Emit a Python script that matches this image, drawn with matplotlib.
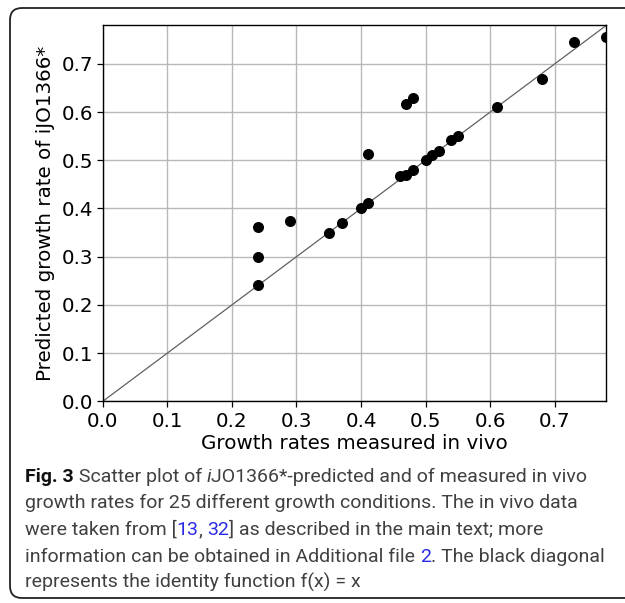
import matplotlib
matplotlib.use("Agg")
import matplotlib.pyplot as plt
from matplotlib.patches import FancyBboxPatch
from matplotlib.transforms import IdentityTransform

# ---- data ----
measured = [0.24, 0.24, 0.24, 0.29, 0.35, 0.37, 0.40, 0.41, 0.41, 0.46, 0.47,
            0.48, 0.47, 0.48, 0.50, 0.51, 0.52, 0.54, 0.55, 0.61, 0.68, 0.73, 0.78]
predicted = [0.362, 0.300, 0.241, 0.375, 0.350, 0.370, 0.400, 0.411, 0.512, 0.467, 0.470,
             0.480, 0.617, 0.630, 0.500, 0.511, 0.520, 0.542, 0.550, 0.611, 0.668, 0.745, 0.755]
ticks = [0.0, 0.1, 0.2, 0.3, 0.4, 0.5, 0.6, 0.7]
lim = 0.78

W, H = 625, 603
fig = plt.figure(figsize=(W / 100, H / 100), dpi=100)

ax_l, ax_r, ax_t, ax_b = 102.8, 606.4, 25.3, 401.3
ax = fig.add_axes([ax_l / W, 1 - ax_b / H, (ax_r - ax_l) / W, (ax_b - ax_t) / H])
ax.grid(True, color="#b8b8b8", linewidth=1.0)
ax.set_axisbelow(True)
ax.plot([0, lim], [0, lim], color="#606060", linewidth=0.9, zorder=2)
ax.scatter(measured, predicted, s=48, color="black", zorder=3, clip_on=True)
ax.set_xlim(0, lim)
ax.set_ylim(0, lim)
ax.set_xticks(ticks)
ax.set_yticks(ticks)
ax.set_xticklabels([f"{t:.1f}" for t in ticks])
ax.set_yticklabels([f"{t:.1f}" for t in ticks])
ax.tick_params(labelsize=14.3, length=4.5, width=0.9, pad=2.5)
ax.tick_params(axis="x", pad=3.5)
for s in ax.spines.values():
    s.set_linewidth(1.0)
ax.set_xlabel("Growth rates measured in vivo", fontsize=14.3, labelpad=2)
ax.set_ylabel("Predicted growth rate of iJO1366*", fontsize=14.3, labelpad=5)

# ---- rounded frame ----
frame = FancyBboxPatch((10, 5), 660, H - 5 - 8, boxstyle="round,pad=0,rounding_size=12",
                       transform=IdentityTransform(), facecolor="none",
                       edgecolor="#222222", linewidth=1.3)
fig.patches.append(frame)

# ---- caption ----
txt = "#404040"
link = "#2a2ae6"
fam = "Roboto"
lines = [
    [("Fig. 3", dict(weight="bold", color="#111111")), (" Scatter plot of ", {}),
     ("i", dict(style="italic")), ("JO1366*-predicted and of measured in vivo", {})],
    [("growth rates for 25 different growth conditions. The in vivo data", {})],
    [("were taken from [", {}), ("13", dict(color=link)), (", ", {}),
     ("32", dict(color=link)), ("] as described in the main text; more", {})],
    [("information can be obtained in Additional file ", {}), ("2", dict(color=link)),
     (". The black diagonal", {})],
    [("represents the identity function f(x) = x", {})],
]
baselines = [482, 508.5, 535, 561.5, 588]
x0 = 25.0

renderer = fig.canvas.get_renderer()


def width_of(s, size, props):
    p = dict(family=fam, fontsize=size)
    p.update(props)
    p.pop("color", None)
    t1 = fig.text(0, 0, "|" + s + "|", **p)
    t2 = fig.text(0, 0, "||", **p)
    w = t1.get_window_extent(renderer).width - t2.get_window_extent(renderer).width
    t1.remove()
    t2.remove()
    return w


# fit font size so the 4th line spans its width in the reference
target = 605 - x0
base = 14.0
w = sum(width_of(s, base, p) for s, p in lines[3])
size = base * target / w

for segs, yb in zip(lines, baselines):
    x = x0
    for s, p in segs:
        props = dict(family=fam, fontsize=size, color=txt)
        props.update(p)
        fig.text(x / W, 1 - yb / H, s, ha="left", va="baseline", **props)
        x += width_of(s, size, p)

fig.savefig("out.png", dpi=100)
